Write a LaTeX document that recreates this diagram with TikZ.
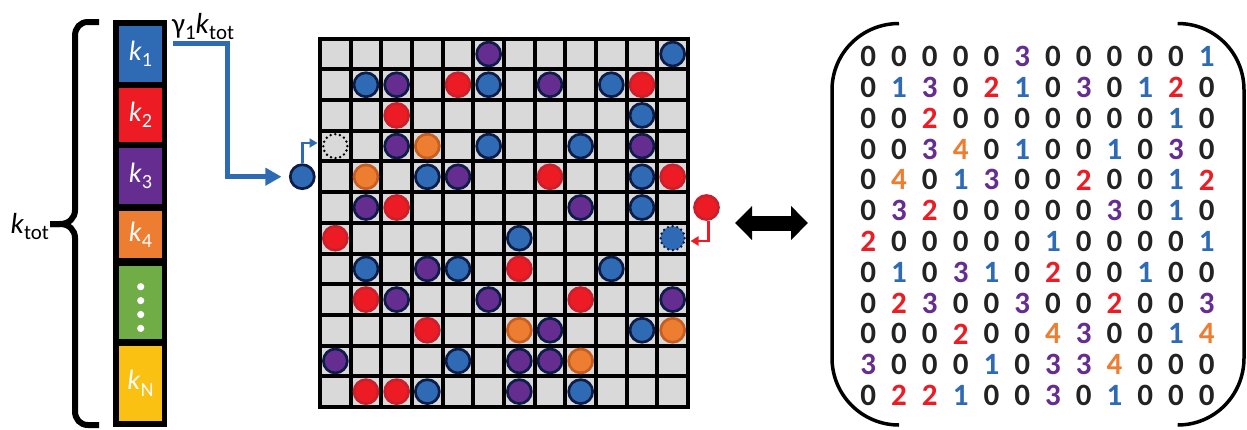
\documentclass[tikz,border=0pt]{standalone}
\usepackage{fontspec}
\setmainfont{Carlito}
\usetikzlibrary{arrows.meta}

% palette
\definecolor{cblue}{RGB}{47,107,180}
\definecolor{cred}{RGB}{237,28,36}
\definecolor{cpurple}{RGB}{102,45,145}
\definecolor{corange}{RGB}{237,125,49}
\definecolor{cgreen}{RGB}{112,173,71}
\definecolor{cyellow}{RGB}{250,192,18}
\definecolor{cnavy}{RGB}{14,28,72}
\definecolor{credrim}{RGB}{200,32,44}
\definecolor{corangerim}{RGB}{197,94,30}
\definecolor{cellgray}{RGB}{217,217,217}
\definecolor{digitblack}{RGB}{35,35,35}

% species colours, indexed by the value stored in a site
\colorlet{dcol0}{digitblack}
\colorlet{dcol1}{cblue}
\colorlet{dcol2}{cred}
\colorlet{dcol3}{cpurple}
\colorlet{dcol4}{corange}
\colorlet{pd1}{cnavy}
\colorlet{pd2}{credrim}
\colorlet{pd3}{cnavy}
\colorlet{pd4}{corangerim}

% lowered subscript in the running text font
\newcommand{\lowsub}[1]{\raisebox{-0.22em}{\fontsize{0.72\dimexpr\fontdimen6\font\relax}{0pt}\selectfont #1}}

\tikzset{
  barcell/.style={rectangle, inner sep=0pt, minimum width=42.4pt, text=white,
                  font=\fontsize{28}{28}\selectfont},
  particle/.style={circle, inner sep=0pt, minimum size=24pt, line width=2.7pt},
  species/.style={particle, fill=dcol#1, draw=pd#1},
  dotrim/.style={dash pattern=on 0pt off 4.7pt, line cap=round, line width=2.7pt},
  vacancy/.style={particle, draw=black, dotrim},
  entry/.style={font=\fontsize{31}{31}\selectfont\bfseries, inner sep=0pt},
  flow/.style={line width=5pt, cblue, -{Triangle[length=16pt,width=17pt]}},
  hop/.style={line width=2.7pt, -{Triangle[length=8pt,width=9pt]}},
  label/.style={inner sep=0pt, font=\fontsize{29}{29}\selectfont},
}

\begin{document}
\begin{tikzpicture}[x=1pt, y=-1pt]
\useasboundingbox (0,0) rectangle (1247,429);

% ---- stacked rate bar ----
\fill[black] (113.3,20) rectangle (166.7,427);
\node[barcell, fill=cblue,   minimum height=55.7pt] (k1) at (140.5,53.85) {\textit{k}\lowsub{1}};
\node[barcell, fill=cred,    minimum height=53.4pt] (k2) at (140.5,115)   {\textit{k}\lowsub{2}};
\node[barcell, fill=cpurple, minimum height=55.7pt] (k3) at (140.5,176.15) {\textit{k}\lowsub{3}};
\node[barcell, fill=corange, minimum height=47.6pt] (k4) at (140.5,234.5) {\textit{k}\lowsub{4}};
\node[barcell, fill=cgreen,  minimum height=73.6pt] (kdots) at (140.5,302.5) {};
\node[barcell, fill=cyellow, minimum height=74.7pt] (kN) at (140.5,383.35) {\textit{k}\lowsub{N}};
\foreach \yy in {286.7,300.6,314.5,328.4}
  \fill[white] (140.7,\yy) circle (3.6);

% ---- brace and total rate ----
\draw[line width=6pt] (99,22) -- (88,22) .. controls (80,22) and (75,28) .. (75,36)
  -- (75,210) .. controls (75,218) and (69,224) .. (60,224) -- (50,224);
\draw[line width=6pt] (50,224) -- (60,224) .. controls (69,224) and (75,230) .. (75,238)
  -- (75,411) .. controls (75,419) and (80,425) .. (88,425) -- (99,425);
\node[label, anchor=base east] (ktot) at (49,233) {\textit{k}\lowsub{tot}};
\node[label, anchor=base west] (rate) at (172,33) {γ\lowsub{1}\textit{k}\lowsub{tot}};

% ---- lattice ----
\fill[cellgray] (320,38.7) rectangle (688,407);
\foreach \k in {0,...,12} {
  \draw[line width=4pt] ({320+30.667*\k},36.7) -- ({320+30.667*\k},409);
  \draw[line width=4pt] (318,{38.7+30.69*\k}) -- (690,{38.7+30.69*\k});
}

% ---- occupation matrix and lattice particles ----
\foreach \row [count=\i] in {
  {0,0,0,0,0,3,0,0,0,0,0,1},
  {0,1,3,0,2,1,0,3,0,1,2,0},
  {0,0,2,0,0,0,0,0,0,0,1,0},
  {0,0,3,4,0,1,0,0,1,0,3,0},
  {0,4,0,1,3,0,0,2,0,0,1,2},
  {0,3,2,0,0,0,0,0,3,0,1,0},
  {2,0,0,0,0,0,1,0,0,0,0,1},
  {0,1,0,3,1,0,2,0,0,1,0,0},
  {0,2,3,0,0,3,0,0,2,0,0,3},
  {0,0,0,2,0,0,4,3,0,0,1,4},
  {3,0,0,0,1,0,3,3,4,0,0,0},
  {0,2,2,1,0,0,3,0,1,0,0,0}} {
  \foreach \v [count=\j] in \row {
    \node[entry, text=dcol\v] (m-\i-\j) at ({868.3+30.77*(\j-1)},{56.7+30.8*(\i-1)}) {\v};
    \ifnum\v>0
      \ifnum\i=7 \ifnum\j=12 \def\rimkind{1}\else\def\rimkind{0}\fi\else\def\rimkind{0}\fi
      \ifnum\rimkind=1
        \node[species=\v, dotrim]
          (p-\i-\j) at ({320+30.667*(\j-0.5)},{38.7+30.69*(\i-0.5)}) {};
      \else
        \node[species=\v] (p-\i-\j) at ({320+30.667*(\j-0.5)},{38.7+30.69*(\i-0.5)}) {};
      \fi
    \fi
  }
}
\node[vacancy] (p-4-1) at ({320+30.667*0.5},{38.7+30.69*3.5}) {};

% ---- incoming and leaving particles ----
\node[species=1] (inblue) at (302.3,176.7) {};
\node[species=2] (outred) at (706.5,207.5) {};

\coordinate (g0) at (172.7,43.5);
\coordinate (gbend) at (227.5,176.7);
\draw[flow] (g0) -| (gbend) -- ([xshift=-7.5pt]inblue.west);

\coordinate (bt) at (317.5,143);
\draw[hop, cblue] (inblue.north) |- (bt);
\coordinate (rs) at (708.5,221);
\coordinate (rt) at (690.5,241);
\draw[hop, cred] (rs) |- (rt);

% ---- lattice <-> matrix ----
\coordinate (da) at (735,223);
\coordinate (db) at (808,223);
\draw[line width=15pt, {Triangle[length=17pt,width=33pt]}-{Triangle[length=17pt,width=33pt]}] (da) -- (db);

% ---- matrix parentheses ----
\draw[line width=3.5pt] (899,23.5) .. controls (862,23.5) and (832,53) .. (832,90)
  -- (832,358) .. controls (832,395) and (862,425) .. (899,425);
\draw[line width=3.5pt] (1177.7,23.5) .. controls (1214.7,23.5) and (1244,53) .. (1244,90)
  -- (1244,358) .. controls (1244,395) and (1214.7,425) .. (1177.7,425);
\end{tikzpicture}
\end{document}
